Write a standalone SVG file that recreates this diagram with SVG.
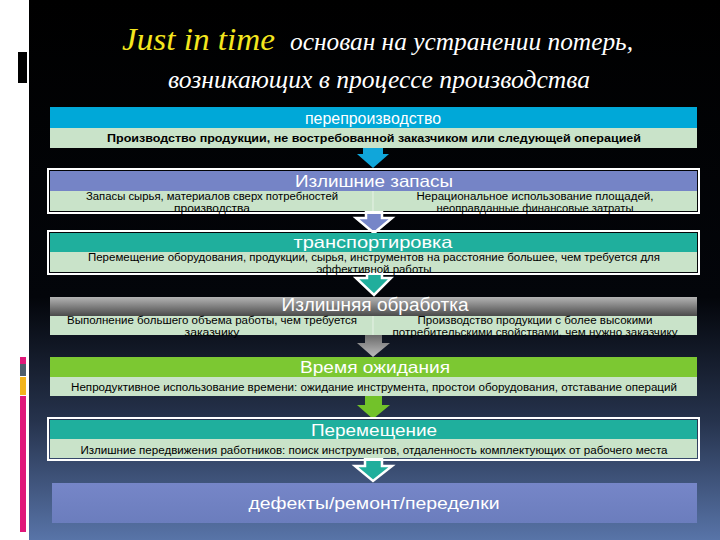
<svg xmlns="http://www.w3.org/2000/svg" width="720" height="540" viewBox="0 0 720 540">
<defs>
<linearGradient id="bg" x1="0" y1="0" x2="0" y2="1">
<stop offset="0" stop-color="#000"/>
<stop offset="0.55" stop-color="#03050a"/>
<stop offset="0.78" stop-color="#26334d"/>
<stop offset="1" stop-color="#5874a8"/>
</linearGradient>
<linearGradient id="gray" x1="0" y1="0" x2="0" y2="1">
<stop offset="0" stop-color="#b4b4b4"/>
<stop offset="1" stop-color="#4a4a4a"/>
</linearGradient>
<linearGradient id="grayArrow" x1="0" y1="0" x2="0" y2="1">
<stop offset="0" stop-color="#6a6a6a"/>
<stop offset="1" stop-color="#bdbdbd"/>
</linearGradient>
<linearGradient id="lav" x1="0" y1="0" x2="0" y2="1">
<stop offset="0" stop-color="#7686c8"/>
<stop offset="1" stop-color="#6b7dbd"/>
</linearGradient>
</defs>
<style>
.hd{font-family:"Liberation Sans","Open Sans","DejaVu Sans",sans-serif;fill:#fff;text-anchor:middle}
.bd{font-family:"Liberation Sans","Open Sans","DejaVu Sans",sans-serif;fill:#000;font-size:10px;text-anchor:middle}
.body{fill:#c9e3c9}
.frame{fill:none;stroke:#fff;stroke-width:2}
.div{stroke:#e6f2e6;stroke-width:1}
.title{font-family:"Liberation Serif","DejaVu Serif",serif;font-style:italic}
</style>
<rect x="0" y="0" width="720" height="540" fill="#fff"/>
<rect x="29" y="0" width="691" height="540" fill="url(#bg)"/>
<rect x="18" y="52" width="9" height="31" fill="#000"/>
<rect x="20" y="357" width="6" height="7" fill="#e0187a"/>
<rect x="20" y="364" width="6" height="12" fill="#4d5e6c"/>
<rect x="20" y="377" width="6" height="18" fill="#f2b41c"/>
<rect x="20" y="396" width="6" height="136" fill="#e0187a"/>

<g id="title">
<text class="title" x="122" y="50" font-size="31" fill="#f4e61e" textLength="153" lengthAdjust="spacingAndGlyphs">Just in time</text>
<text class="title" x="290" y="50" font-size="26" fill="#fff" textLength="343" lengthAdjust="spacingAndGlyphs">основан на устранении потерь,</text>
<text class="title" x="168" y="88" font-size="26" fill="#fff" textLength="422" lengthAdjust="spacingAndGlyphs">возникающих в процессе производства</text>
</g>

<g id="connectors">
<path d="M363,148 H383 V154 H389 L373,168 L357,154 H363 Z" fill="#10a6da"/>
<path d="M366,212 H382 V218 H392 L374,233 L356,218 H366 Z" fill="#7686c8" stroke="#fff" stroke-width="2.5"/>
<path d="M367,272 H382 V278 H391 L374,295 L356,278 H367 Z" fill="#20ae9c" stroke="#fff" stroke-width="2.5"/>
<path d="M365,335 H382 V343 H390 L373,357 L357,343 H365 Z" fill="url(#grayArrow)"/>
<path d="M365,396 H382 V405 H390 L373,419 L357,405 H365 Z" fill="#72c22a"/>
<path d="M365,459 H382 V466 H392 L373,481 L355,466 H365 Z" fill="#20ae9c" stroke="#fff" stroke-width="2.5"/>
</g>

<g id="n1">
<rect x="50" y="107" width="647" height="21" fill="#00a8d8"/>
<rect class="body" x="50" y="128" width="647" height="20"/>
<text class="hd" x="373" y="124" font-size="16" textLength="136" lengthAdjust="spacingAndGlyphs">перепроизводство</text>
<text class="bd" x="374" y="142" font-weight="bold" font-size="11" textLength="534" lengthAdjust="spacingAndGlyphs">Производство продукции, не востребованной заказчиком или следующей операцией</text>
</g>

<g id="n2">
<rect x="50" y="171" width="647" height="20" fill="#7584c6"/>
<rect class="body" x="50" y="191" width="647" height="20"/>
<line class="div" x1="373" y1="191" x2="373" y2="211"/>
<rect class="frame" x="48" y="169" width="651" height="44"/>
<text class="hd" x="374" y="187" font-size="16.5" textLength="158" lengthAdjust="spacingAndGlyphs">Излишние запасы</text>
<text class="bd" x="212" y="200" textLength="252" lengthAdjust="spacingAndGlyphs">Запасы сырья, материалов сверх потребностей</text>
<text class="bd" x="212" y="212" textLength="76" lengthAdjust="spacingAndGlyphs">производства</text>
<text class="bd" x="535" y="200" textLength="237" lengthAdjust="spacingAndGlyphs">Нерациональное использование площадей,</text>
<text class="bd" x="535" y="212" textLength="197" lengthAdjust="spacingAndGlyphs">неоправданные финансовые затраты</text>
</g>

<g id="n3">
<rect x="50" y="233" width="647" height="19" fill="#1faf9d"/>
<rect class="body" x="50" y="252" width="647" height="20"/>
<rect class="frame" x="48" y="231" width="651" height="43"/>
<text class="hd" x="373" y="248" font-size="16.5" textLength="159" lengthAdjust="spacingAndGlyphs">транспортировка</text>
<text class="bd" x="374" y="261" textLength="572" lengthAdjust="spacingAndGlyphs">Перемещение оборудования, продукции, сырья, инструментов на расстояние большее, чем требуется для</text>
<text class="bd" x="374" y="273" textLength="115" lengthAdjust="spacingAndGlyphs">эффективной работы</text>
</g>

<g id="n4">
<rect x="50" y="297" width="647" height="19" fill="url(#gray)"/>
<rect class="body" x="50" y="316" width="647" height="19"/>
<line class="div" x1="373" y1="316" x2="373" y2="335"/>
<text class="hd" x="375" y="310.5" font-size="18" textLength="187" lengthAdjust="spacingAndGlyphs">Излишняя обработка</text>
<text class="bd" x="212" y="324" textLength="290" lengthAdjust="spacingAndGlyphs">Выполнение большего объема работы, чем требуется</text>
<text class="bd" x="212" y="335.5" textLength="55" lengthAdjust="spacingAndGlyphs">заказчику</text>
<text class="bd" x="535" y="324" textLength="235" lengthAdjust="spacingAndGlyphs">Производство продукции с более высокими</text>
<text class="bd" x="535" y="335.5" textLength="285" lengthAdjust="spacingAndGlyphs">потребительскими свойствами, чем нужно заказчику</text>
</g>

<g id="n5">
<rect x="50" y="357" width="647" height="20" fill="#7cc832"/>
<rect class="body" x="50" y="377" width="647" height="19"/>
<text class="hd" x="375" y="373" font-size="16.5" textLength="150" lengthAdjust="spacingAndGlyphs">Время ожидания</text>
<text class="bd" x="374" y="391" textLength="606" lengthAdjust="spacingAndGlyphs">Непродуктивное использование времени: ожидание инструмента, простои оборудования, отставание операций</text>
</g>

<g id="n6">
<rect x="50" y="420" width="647" height="19" fill="#1faf9d"/>
<rect class="body" x="50" y="439" width="647" height="19"/>
<rect class="frame" x="48" y="418" width="651" height="42"/>
<text class="hd" x="374" y="436" font-size="16.5" textLength="126" lengthAdjust="spacingAndGlyphs">Перемещение</text>
<text class="bd" x="374" y="454" textLength="587" lengthAdjust="spacingAndGlyphs">Излишние передвижения работников: поиск инструментов, отдаленность комплектующих от рабочего места</text>
</g>

<g id="n7">
<rect x="52" y="483" width="645" height="40" fill="url(#lav)"/>
<text class="hd" x="374" y="509" font-size="16.5" textLength="251" lengthAdjust="spacingAndGlyphs">дефекты/ремонт/переделки</text>
</g>
</svg>
